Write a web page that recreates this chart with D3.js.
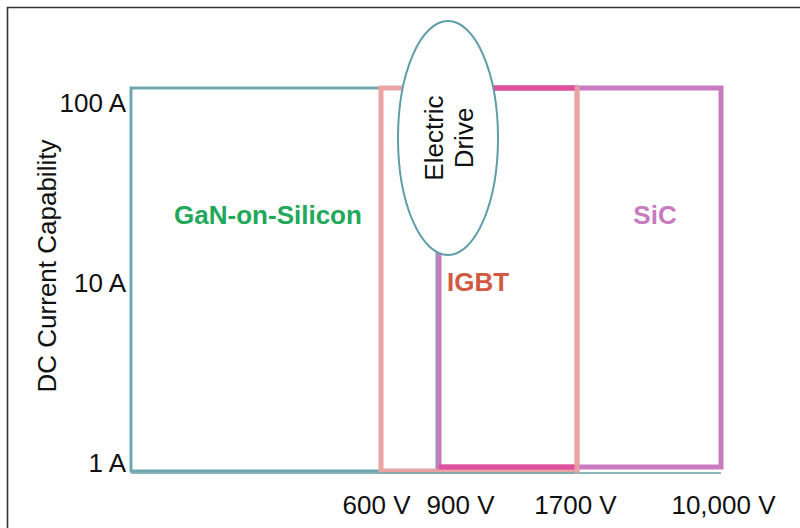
<!DOCTYPE html>
<html>
<head>
<meta charset="utf-8">
<script src="https://cdn.jsdelivr.net/npm/d3@7"></script>
<style>
  body { margin: 0; background: #fff; }
  svg text { font-family: "Liberation Sans", Arial, sans-serif; }
</style>
</head>
<body>
<div id="chart"></div>
<script>
// voltage breakpoints on the x axis (0 = left edge of the chart)
const voltages = [0, 600, 900, 1700, 10000];
const voltageTicks = [600, 900, 1700, 10000];
const currentTicks = [1, 10, 100];

// technology regions: voltage span and current span
const techNames = ["GaN-on-Silicon", "IGBT", "SiC"];
const techVoltFrom = [0, 600, 900];
const techVoltTo = [900, 1700, 10000];
const techAmpFrom = [1, 1, 1];
const techAmpTo = [100, 100, 100];

const width = 800, height = 528;
const fs = 26;

let svg = d3.select("#chart")
  .append("svg")
  .attr("width", width)
  .attr("height", height);

// frame
svg.append("path")
  .attr("d", "M7.5,528 V7.5 H800")
  .attr("fill", "none")
  .attr("stroke", "#333")
  .attr("stroke-width", 1.6);

// piecewise voltage scale (the original axis is not linear or log)
let x = d3.scaleLinear()
  .domain(voltages)
  .range([131, 381, 437, 577, 721]);

let y = d3.scaleLog()
  .domain([1, 100])
  .range([471, 88]);

let techs = techNames.map((n, i) => ({
  name: n, v0: techVoltFrom[i], v1: techVoltTo[i], a0: techAmpFrom[i], a1: techAmpTo[i]
}));

let style = {
  "GaN-on-Silicon": {stroke: "#6ea7ad", sw: 3, label: "#22a85a", inL: 0, inB: 0},
  "IGBT": {stroke: "#eba4a4", sw: 5, label: "#d25a44", inL: 0, inB: 0},
  "SiC": {stroke: "#c97bc0", sw: 5, label: "#c97bc0", inL: 2, inB: 4}
};

svg.selectAll(".tech")
  .data(techs)
  .enter().append("rect")
  .attr("class", "tech")
  .attr("x", d => x(d.v0) + style[d.name].inL)
  .attr("y", d => y(d.a1))
  .attr("width", d => x(d.v1) - x(d.v0) - style[d.name].inL)
  .attr("height", d => y(d.a0) - y(d.a1) - style[d.name].inB)
  .attr("fill", "none")
  .attr("stroke", d => style[d.name].stroke)
  .attr("stroke-width", d => style[d.name].sw);

// teal baseline runs along the bottom below the boxes
svg.append("line")
  .attr("x1", x(0)).attr("x2", x(10000))
  .attr("y1", y(1) + 2).attr("y2", y(1) + 2)
  .attr("stroke", "#6ea7ad")
  .attr("stroke-width", 2)
  .attr("opacity", 0.8);

// where the IGBT and SiC edges coincide the line looks hot pink
let igbt = techs[1], sic = techs[2];
let ov0 = Math.max(igbt.v0, sic.v0), ov1 = Math.min(igbt.v1, sic.v1);
[y(sic.a1), y(sic.a0) - style.SiC.inB].forEach(yy => {
  svg.append("line")
    .attr("x1", x(ov0) + style.SiC.inL).attr("x2", x(ov1))
    .attr("y1", yy).attr("y2", yy)
    .attr("stroke", "#e0509e")
    .attr("stroke-width", 5);
});
// IGBT right edge stays visible on top
svg.append("line")
  .attr("x1", x(igbt.v1)).attr("x2", x(igbt.v1))
  .attr("y1", y(igbt.a1) - 2).attr("y2", y(igbt.a0) + 2)
  .attr("stroke", "#eba4a4")
  .attr("stroke-width", 5)
  .attr("opacity", 0.85);

// region labels
let labelPos = {
  "GaN-on-Silicon": {x: 268, y: 215, anchor: "middle"},
  "IGBT": {x: 447, y: 282, anchor: "start"},
  "SiC": {x: 655, y: 215, anchor: "middle"}
};
svg.selectAll(".tech-label")
  .data(techs)
  .enter().append("text")
  .attr("class", "tech-label")
  .attr("x", d => labelPos[d.name].x)
  .attr("y", d => labelPos[d.name].y)
  .attr("dy", "0.35em")
  .attr("text-anchor", d => labelPos[d.name].anchor)
  .attr("font-size", fs)
  .attr("font-weight", "bold")
  .attr("fill", d => style[d.name].label)
  .text(d => d.name);

// Electric Drive callout
let cx = x(900) + 11, cy = 138;
svg.append("ellipse")
  .attr("cx", cx).attr("cy", cy)
  .attr("rx", 50).attr("ry", 117)
  .attr("fill", "#fff")
  .attr("stroke", "#5f9ea8")
  .attr("stroke-width", 2);
let ed = svg.append("text")
  .attr("transform", "translate(" + cx + "," + cy + ") rotate(-90)")
  .attr("text-anchor", "middle")
  .attr("font-size", fs)
  .attr("fill", "#111");
ed.append("tspan").attr("x", 0).attr("dy", "-0.2em").text("Electric");
ed.append("tspan").attr("x", 0).attr("dy", "1.15em").text("Drive");

// y axis
let yNudge = {1: -8, 10: 4, 100: 15};
let yAxis = d3.axisLeft(y)
  .tickValues(currentTicks)
  .tickFormat(d => d + " A")
  .tickSize(0)
  .tickPadding(0);
let yg = svg.append("g")
  .attr("transform", "translate(126,0)")
  .call(yAxis);
yg.select(".domain").remove();
yg.selectAll("text")
  .attr("font-size", fs)
  .attr("font-family", "Liberation Sans, Arial, sans-serif")
  .attr("fill", "#111")
  .attr("transform", d => "translate(0," + yNudge[d] + ")");

svg.append("text")
  .attr("transform", "translate(47,266) rotate(-90)")
  .attr("text-anchor", "middle")
  .attr("dy", "0.35em")
  .attr("font-size", fs)
  .attr("fill", "#111")
  .text("DC Current Capability");

// x axis
let xNudge = {600: -5, 900: 23, 1700: -2, 10000: 2};
let xAxis = d3.axisBottom(x)
  .tickValues(voltageTicks)
  .tickFormat(d => d3.format(d >= 10000 ? "," : "d")(d) + " V")
  .tickSize(0)
  .tickPadding(0);
let xg = svg.append("g")
  .attr("transform", "translate(0,505)")
  .call(xAxis);
xg.select(".domain").remove();
xg.selectAll("text")
  .attr("font-size", fs)
  .attr("font-family", "Liberation Sans, Arial, sans-serif")
  .attr("fill", "#111")
  .attr("dy", "0.35em")
  .attr("transform", d => "translate(" + xNudge[d] + ",0)");
</script>
</body>
</html>
